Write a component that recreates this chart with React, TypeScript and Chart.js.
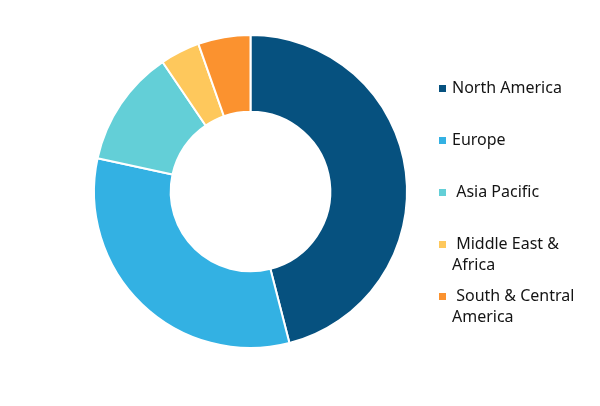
import React, { useEffect, useRef } from "react";
import { Chart, registerables } from "chart.js";

Chart.register(...registerables);

const categories = ["North America", "Europe", " Asia Pacific", " Middle East & Africa", " South & Central America"];
const shares = [46.0, 32.4, 12.1, 4.1, 5.4];
const colors = ["#06517F", "#33B1E3", "#63CFD7", "#FEC85C", "#FB922F"];

export default function App() {
  const ref = useRef<HTMLCanvasElement | null>(null);

  useEffect(() => {
    document.body.style.margin = "0";
    if (!ref.current) return;
    const chart = new Chart(ref.current, {
      type: "doughnut",
      data: {
        labels: categories,
        datasets: [
          {
            data: shares,
            backgroundColor: colors,
            borderColor: "#ffffff",
            borderWidth: 2,
            hoverOffset: 0,
          },
        ],
      },
      options: {
        animation: false,
        responsive: false,
        maintainAspectRatio: false,
        cutout: "51%",
        layout: { padding: { left: 93, right: 192, top: 34, bottom: 57 } },
        plugins: {
          legend: { display: false },
          tooltip: { enabled: false },
        },
      },
    });
    return () => chart.destroy();
  }, []);

  return (
    <div style={{ position: "relative", width: 600, height: 406, background: "#fff" }}>
      <canvas ref={ref} width={600} height={406} style={{ position: "absolute", left: 0, top: 0, width: 600, height: 406 }} />
      {categories.map((c, i) => (
        <div
          key={c}
          style={{
            position: "absolute",
            left: 439,
            top: 76.5 + i * 52,
            display: "flex",
            alignItems: "flex-start",
          }}
        >
          <div style={{ width: 7, height: 7, background: colors[i], marginTop: 8.5, marginRight: 6, flex: "none" }} />
          <div
            style={{
              width: 148,
              whiteSpace: "pre-wrap",
              fontFamily: "'Noto Sans', 'Open Sans', sans-serif",
              fontSize: 16,
              lineHeight: "21px",
              color: "#141414",
            }}
          >
            {c}
          </div>
        </div>
      ))}
    </div>
  );
}
